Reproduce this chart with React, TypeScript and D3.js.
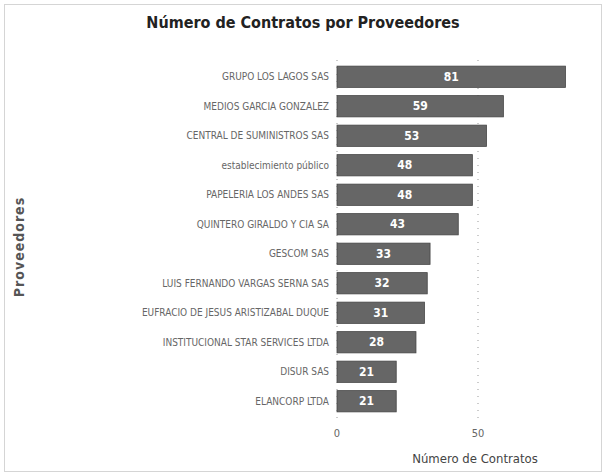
import React, { useRef, useEffect } from "react";
import * as d3 from "d3";

const providers = [
  "GRUPO LOS LAGOS SAS",
  "MEDIOS GARCIA GONZALEZ",
  "CENTRAL DE SUMINISTROS SAS",
  "establecimiento público",
  "PAPELERIA LOS ANDES SAS",
  "QUINTERO GIRALDO Y CIA SA",
  "GESCOM SAS",
  "LUIS FERNANDO VARGAS SERNA SAS",
  "EUFRACIO DE JESUS ARISTIZABAL DUQUE",
  "INSTITUCIONAL STAR SERVICES LTDA",
  "DISUR SAS",
  "ELANCORP LTDA",
];
const contracts = [81, 59, 53, 48, 48, 43, 33, 32, 31, 28, 21, 21];
const xTicks = [0, 50];

const W = 603;
const H = 475;
const FONT = "'DejaVu Sans Condensed', 'Liberation Sans Narrow', 'DejaVu Sans', sans-serif";

export default function App() {
  const ref = useRef<SVGSVGElement | null>(null);

  useEffect(() => {
    const svg = d3.select(ref.current);
    svg.selectAll("*").remove();

    // outer dotted frame
    svg.append("rect")
      .attr("x", 4.5).attr("y", 4.5)
      .attr("width", W - 6).attr("height", H - 8)
      .attr("fill", "white")
      .attr("stroke", "#aaa")
      .attr("stroke-dasharray", "1,1");

    const x = d3.scaleLinear().domain([0, 50]).range([337, 478]);
    const y = d3.scaleBand<number>()
      .domain(d3.range(providers.length))
      .range([62, 416])
      .paddingInner(0.28)
      .paddingOuter(0.14);

    // dotted gridlines
    svg.append("g").selectAll("line")
      .data(xTicks)
      .enter()
      .append("line")
      .attr("x1", d => x(d)).attr("x2", d => x(d))
      .attr("y1", 60).attr("y2", 418)
      .attr("stroke", "#999")
      .attr("stroke-dasharray", "1,6");

    // bars
    svg.append("g").selectAll("rect")
      .data(contracts)
      .enter()
      .append("rect")
      .attr("x", x(0))
      .attr("y", (d, i) => y(i)!)
      .attr("width", d => x(d) - x(0))
      .attr("height", y.bandwidth())
      .attr("fill", "#666")
      .attr("stroke", "#444")
      .attr("stroke-width", 0.8);

    // value labels
    svg.append("g").selectAll("text")
      .data(contracts)
      .enter()
      .append("text")
      .attr("x", d => (x(d) + x(0)) / 2)
      .attr("y", (d, i) => y(i)! + y.bandwidth() / 2)
      .attr("dy", "0.35em")
      .attr("text-anchor", "middle")
      .style("font-family", FONT)
      .style("font-size", "12px")
      .style("font-weight", "bold")
      .attr("fill", "white")
      .text(d => d);

    // category labels
    svg.append("g").selectAll("text")
      .data(providers)
      .enter()
      .append("text")
      .attr("x", 329)
      .attr("y", (d, i) => y(i)! + y.bandwidth() / 2)
      .attr("dy", "0.35em")
      .attr("text-anchor", "end")
      .style("font-family", FONT)
      .style("font-size", "10px")
      .attr("fill", "#666")
      .text(d => d);

    // x tick labels
    svg.append("g").selectAll("text")
      .data(xTicks)
      .enter()
      .append("text")
      .attr("x", d => x(d))
      .attr("y", 437)
      .attr("text-anchor", "middle")
      .style("font-family", FONT)
      .style("font-size", "11px")
      .attr("fill", "#666")
      .text(d => d);

    // title
    svg.append("text")
      .attr("x", 303).attr("y", 28)
      .attr("text-anchor", "middle")
      .style("font-family", FONT)
      .style("font-size", "16px")
      .style("font-weight", "bold")
      .attr("fill", "#222")
      .text("Número de Contratos por Proveedores");

    // axis titles
    svg.append("text")
      .attr("x", 475).attr("y", 463)
      .attr("text-anchor", "middle")
      .style("font-family", FONT)
      .style("font-size", "13px")
      .attr("fill", "#444")
      .text("Número de Contratos");

    svg.append("text")
      .attr("transform", "translate(24,247) rotate(-90)")
      .attr("text-anchor", "middle")
      .style("font-family", FONT)
      .style("font-size", "14px")
      .style("font-weight", "bold")
      .style("letter-spacing", "1px")
      .attr("fill", "#555")
      .text("Proveedores");
  }, []);

  return (
    <svg
      ref={ref}
      width={W}
      height={H}
      style={{ position: "absolute", left: 0, top: 0, background: "white" }}
    />
  );
}
